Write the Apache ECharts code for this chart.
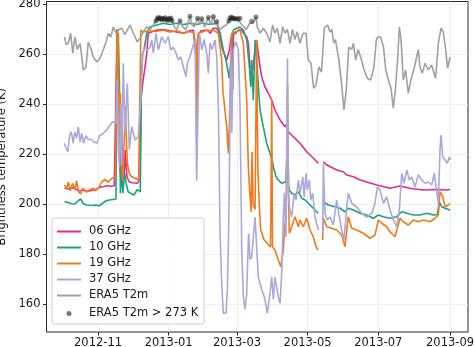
<!DOCTYPE html>
<html>
<head>
<meta charset="utf-8">
<script src="https://cdn.jsdelivr.net/npm/echarts@6/dist/echarts.min.js"></script>
<style>
  html, body { margin: 0; padding: 0; background: #fff; }
  #chart { width: 474px; height: 347px; }
</style>
</head>
<body>
<div id="chart"></div>
<script>
// Day offsets are counted from 2012-11-01 (UTC); values are brightness temperatures in K.
const DAY0 = Date.UTC(2012, 10, 1);
const DAY_MS = 86400000;

const monthTicks = ['2012-11', '2013-01', '2013-03', '2013-05', '2013-07', '2013-09'];
const tempTicks = [160, 180, 200, 220, 240, 260, 280];
const THRESHOLD = 273;

const ghz06 = [
  [-29,206.5],[-25,206.2],[-22,206.8],[-19,206],[-16,205.5],[-13,205.8],[-10,205.2],[-7,205.5],[-4,205.8],
  [-1,206.2],[2,207],[5,207.2],[8,207.5],[11,207.3],[14,207.5],[15.5,207.8],
  [16.5,270],[17.5,269.8],[18.3,241.8],[19,215],[19.8,209.8],[20.5,228.6],[21.5,212.5],[22.5,209.8],
  [23.5,221.8],[25,211],[27,209],[30,208.7],[34,208.5],[36.3,210],[37,241.8],[38.6,248.5],[40.6,255],
  [42.1,260.5],[43.4,268.5],[44.9,269],[50.7,269.8],[56.4,270],[62,269.5],[68,269],[73.7,268.5],
  [79,269.5],[82.3,269.8],[83.5,264],[84.5,259],[85.5,262],[86.5,268],[89,269.5],[93.9,269.8],
  [97,268.5],[99.6,270.5],[102.5,270.5],[105,268.5],[107.5,262],[111.1,257.8],[113.5,262],[115.5,268.5],
  [116.3,245.8],[117,268],[119.8,269],[122,270],[124.1,269.8],[126.5,268],[128.4,267.1],[129.8,264.5],
  [131.3,255],[133.6,253.8],[135.6,261.8],[137,265.8],[138.4,266.5],[139.9,255],[141.4,251],[144.2,247],
  [147.1,244.5],[150,241.8],[152.8,237.8],[157.2,233.8],[161.5,231.1],[163.6,232.5],[164.5,229],
  [168.7,227.1],[174.4,224.5],[180.2,221.1],[186,218.5],[190.2,216.5],[192,null],
  [194.6,217.1],[197.5,215.8],[203.2,214.5],[206.1,213.8],[211.8,213.1],[214.8,211.8],[220.5,211.1],
  [226.3,209.8],[240.7,207.8],[252.2,206.5],[260.8,207.4],[269.4,206.5],[280.9,205.8],[292.5,206],
  [301.1,205.8],[304,206]
];

const ghz10 = [
  [-29,201.1],[-26,200.8],[-23,200.3],[-20,200.2],[-17,201.5],[-15,202.2],[-13,200.5],[-10,199.8],
  [-6,199.6],[-2,199.8],[1,199.5],[4,200.5],[7,201.5],[10,201.8],[13,202],[15.5,202.2],
  [16.3,270],[17,262],[17.5,268.5],[18.5,248.5],[19.3,204.5],[20.5,212.5],[21.5,204.5],[23,212.5],
  [24.5,208],[26,205.1],[28,204.5],[31,203.8],[34,206],[36.5,205],[37.5,251],[38.5,260.5],[39.7,261.8],
  [42.1,268.5],[44.9,271.1],[50.7,271.8],[56.4,272.5],[62,272],[68,272.5],[74,272],[79.4,272.5],
  [85,272],[90.9,272.7],[96,272],[102.5,272.5],[105.4,268.5],[108.2,261.8],[110.5,257.8],[113.4,250.5],
  [115.5,261.8],[116.8,269.8],[119.8,270.5],[122.6,271],[125.5,269.8],[128.4,265.8],[130.7,255],
  [131.9,247],[132.7,257.8],[134.1,241.8],[135.6,265.8],[136.4,262],[138.7,245.8],[139.9,237.8],
  [142.7,231.1],[145.7,224.5],[148.5,220.5],[150.7,217],[151.4,215.1],[153.7,211.1],[155.7,209.8],
  [158.6,208.5],[162.3,209.1],[163.3,222],[163.8,225],[164.5,208],[165.2,205.8],[167.3,204.5],
  [170.1,203.8],[173,205.1],[175.9,202.5],[178.8,201.8],[181.6,200.5],[185.9,198.5],[190.2,196.5],[192,null],
  [194.6,201.1],[198.9,199.8],[204.7,199.1],[209,198.5],[213.3,197.1],[216.1,198.5],[220.5,197.8],
  [226.3,196.5],[232,195.8],[237.7,194.5],[242.1,195.8],[246.4,195.1],[252.2,194.5],[257.9,195.1],
  [262.3,197.1],[266.6,196.5],[272.3,195.8],[278.1,195.8],[283.9,196.5],[289.6,195.8],[293,196],
  [294.7,201.1],[296.8,199.1],[299.7,198.5],[304,197.8]
];

const ghz19 = [
  [-29,207.8],[-27,206.5],[-25.5,209],[-24,205.5],[-22,208.5],[-20,206],[-18.5,209.5],[-17,205],
  [-15,204.2],[-13,206.5],[-10,205],[-7,206],[-4,206.5],[-2,205.5],[1,207],[3,209],[6,210],[9,209],
  [12,210.5],[15,211],[15.8,211],
  [16.5,270],[17.3,268.5],[18.3,228.5],[19.3,244.5],[20.5,215],[21.5,209.5],[23.5,239.1],[25.3,216.5],
  [27,212.5],[29,211.1],[32,210.5],[35,209.8],[36.5,210.5],[37,269.8],[39,269],[44,269.5],[50,269.2],
  [56,269.8],[62,269],[68,269.5],[74,268.5],[79,269.2],[82.3,268.8],[84.4,264.5],[85.2,225],[86,266],
  [86.6,268.5],[93,269.5],[99.6,269.8],[101,270.5],[103.9,268.5],[106.8,257.8],[107.8,245.8],
  [111.1,231.1],[112.5,220.5],[114,241.8],[115.5,268.5],[118.3,269],[122.6,269.8],[125.5,264.5],
  [128.4,241.8],[129.8,215.1],[131,205],[132.2,197],[133,221],[134,200],[135.6,198],[137,265.8],
  [138,215],[139.2,200],[140.5,190],[143.2,186],[146,184.5],[149,183],[150,242],[150.7,183],
  [152.8,181.8],[155.7,177.8],[157.8,175.1],[160,181.8],[161.5,192.5],[162.5,195],[163.6,247.8],
  [164.5,205],[165.2,188.5],[167.3,191.1],[170.1,195.1],[173,191.1],[174.4,193.8],[177.3,191.1],
  [180.2,194.5],[183.1,189.8],[185.9,187.1],[188.3,183.1],[190.2,181.8],[192,null],
  [194,185.8],[194.6,194.5],[197.5,191.1],[201.8,190.5],[206.1,189.8],[210.4,187.8],[213.3,183.1],
  [216.1,195.1],[219.1,190.5],[223.4,189.8],[229.1,188.5],[234.9,186.5],[239.2,187.8],[242.1,193.8],
  [245,192.5],[249.3,191.1],[252.2,189.1],[256.5,187.1],[260.8,194.5],[263.6,193.1],[268,191.8],
  [272.3,193.8],[276.6,193.1],[280.9,193.8],[286.7,193.1],[291,194.5],[293.9,195.8],[295.3,205.1],
  [297.7,203.1],[299.7,199.1],[302.5,199.8],[304,200.5]
];

const ghz37 = [
  [-29,224.5],[-27.5,222.5],[-26,221.1],[-24.5,227.8],[-23,229.1],[-21.5,224.5],[-20,229],[-18.5,226.5],
  [-17,231.1],[-15.5,225],[-14,228.5],[-12.5,224.5],[-10.5,227.5],[-8.5,226],[-6,226.1],[-3.5,225],
  [-1,224.5],[1.5,227.5],[4.5,228.5],[7.5,229.8],[10,231.5],[12.5,233.1],[15.5,232.5],
  [16.5,249.8],[17.5,222],[18.5,215],[19.5,240],[20.5,216],[21.8,256.5],[23.3,228.5],[25.3,248.5],
  [27,222],[29.1,231.1],[32,225.8],[34.8,227.1],[36.9,241.8],[38.6,260.5],[40.6,263],[42.6,261.8],
  [44.9,263],[46.4,265.8],[47.8,260.5],[50.1,268.5],[52.1,261.8],[55,267.1],[57.9,264.5],[60.7,267.1],
  [62.8,261.8],[65,263],[67.4,260.5],[69.3,257.8],[71.4,259.1],[73.7,255],[76,251.1],[77.1,256.5],
  [79.4,259.1],[81.8,263],[83.8,265.8],[85.2,209.5],[87.5,268.5],[89.6,261.8],[91.5,266],[93.9,260.5],
  [95.3,252.5],[96.7,264.5],[98.5,262],[101,265.8],[102.5,259],[103.9,240],[105.4,188.5],[106.8,168.5],
  [108.2,156.5],[110.5,156.5],[111.7,166],[112.5,182],[113.4,208.5],[114.5,262],[115.5,228.6],
  [116.8,262],[119,265],[121.2,262],[122.6,240],[124.1,182],[125.5,163],[126.9,158],[128.4,164.5],
  [130,188.5],[131.3,178],[132.7,179],[135.6,195],[138.4,171],[141.4,166],[144.2,162],[146.2,156.5],
  [148.5,164.5],[150,171],[151.4,162],[152.8,171],[155.7,163],[157.2,160.5],[158.6,172.5],[160,195],
  [160.9,204.5],[162.3,187],[163.6,258.5],[164.5,204.5],[165.2,199],[167.3,195],[169.3,204.5],
  [171,201.8],[173,209.8],[174.4,204.5],[176.8,211],[178,203],[179.6,212.5],[180.7,205.8],[182.5,209.8],
  [183.7,201.8],[185.4,204.5],[187.4,195],[190.2,189.8],[192,null],
  [194,188.5],[194.6,216.5],[196,196.5],[198,193.8],[200.3,195],[203.2,191.8],[206.1,201.8],
  [208.4,195],[210.4,189.8],[212.4,185.8],[214.8,199],[216.1,204.5],[219.1,200.5],[223.4,199],
  [227.7,196.5],[232,195],[236.4,196.5],[239.2,200.5],[241.2,207],[243.5,205.8],[246.4,200.5],
  [249.3,203],[252.2,197.8],[255,193.8],[257.9,191.1],[260.2,197.8],[262.3,212.5],[264.2,208.5],
  [266.6,213.8],[268.8,209.8],[270.9,211],[273.7,207],[276.6,211.8],[279.5,209.8],[282.4,208.5],
  [285.2,209],[288.2,207.8],[290.4,212.5],[291.9,207],[293.9,200.5],[295.3,221.8],[296.2,227.8],
  [297.7,219],[299.7,217.8],[301.6,216.5],[303.4,219],[304.6,217.8]
];

const era5T2m = [
  [-29,267],[-27.5,264],[-25.6,264.5],[-23.6,268.5],[-21.8,260.5],[-19.9,267],[-17.9,262],[-15.5,264.5],
  [-12.7,253.8],[-10.4,255],[-8.4,265],[-6.3,262.5],[-4.1,259],[-1.1,257],[1.7,258.5],[4.6,262],
  [6.9,265],[8.9,268.5],[11,267],[13.2,271],[15.5,268.5],[18,270],[20.5,270.5],[23,268],[26.2,270.5],
  [27.6,271.8],[30.5,268.5],[33.9,265],[36.9,267],[39,269],[42,271],[45,270],[48,272],
  [50,273.4],[51,274.3],[52,274.8],[53,274.2],[54,274.6],[55,273.9],[56,274.5],[57,274.1],[58,274.7],
  [59,274],[60,273.6],[61,274.4],[62,274],[63,274.6],[64,273.5],[66,271],[68,270],[70.8,273.5],[73,271],
  [76,270],[79.4,275.3],[81,272],[83,271],[86,274.5],[88,272],[89.6,274.3],[92,271],[95.3,274.8],[97,272],
  [99.6,275.2],[101,272],[102.5,273.2],[105,270],[108,271],[111,272],[113,273.4],
  [114,274.5],[115,275],[116,274.3],[117,274.6],[118,274.2],[119.5,274.4],[121,274.1],[122.5,274.5],
  [124,272],[125.5,271.8],[128,270],[131,272.5],[132.7,273.3],[134,272.5],[136.4,275],[137.5,271],
  [139.9,268.5],[142.7,270.5],[145.7,268.5],[148.5,265],[150.7,271.8],[152.8,268.5],[154.8,270.5],
  [157.2,264.5],[159.5,271],[161.5,268.5],[163.5,270],[165.8,264.5],[168,270],[170,266],[172,269.1],
  [174.4,264.5],[177,268.5],[179.6,268.5],[181.6,257.8],[183.9,256.5],[186.2,246.5],[188.3,247.8],
  [190.7,255],[193,253],[195.4,270.5],[198.3,271.8],[200.3,269],[202,270],[203.5,264.5],[205,266],
  [208,257.8],[210.3,248.5],[212.4,237.8],[214.4,245.8],[216.5,263],[219,262],[220.5,264.5],
  [222.5,257.8],[224.7,262],[227.5,257.8],[229.8,253.8],[232.6,250.5],[235.5,249.8],[238.3,255],
  [240.3,265.8],[241.7,267],[244,267],[246.5,263],[248.5,253.8],[250.8,249.8],[253,246.5],[255,238.5],
  [257,247],[258.8,258.5],[260.2,271],[261.7,265.8],[263.6,249.8],[265.7,253.8],[267.9,244.5],
  [270.2,249.8],[273,254.5],[276.6,262],[278,255],[280,252.5],[282.4,256.5],[285.2,253.8],[288,255.8],
  [291.5,250.5],[293.9,264.5],[296.2,270.5],[298.2,269],[300.2,262],[301.9,254.5],[304,259]
];

const dayToTime = d => DAY0 + d * DAY_MS;
const toPoints = arr => arr.map(([d, v]) => [dayToTime(d), v]);
const monthToTime = s => { const [y, m] = s.split('-').map(Number); return Date.UTC(y, m - 1, 1); };
const monthTickTimes = monthTicks.map(monthToTime);
const warmDays = era5T2m.filter(([, v]) => v !== null && v > THRESHOLD);

const FONT = 'DejaVu Sans';
const LINE_ICON = 'path://M0,0L24,0L24,2L0,2Z';
const COLORS = { g06: '#e6298b', g10: '#1ba37c', g19: '#f07a1a', g37: '#aaa8d9', era: '#a0a0a0' };

const lineSeries = (name, arr, color) => ({
  name, type: 'line', data: toPoints(arr), showSymbol: false, symbol: 'none',
  connectNulls: false, z: 2,
  lineStyle: { color, width: 1.6 }, itemStyle: { color },
  emphasis: { disabled: true }, animation: false
});

const chart = echarts.init(document.getElementById('chart'), null, { renderer: 'canvas' });
chart.setOption({
  animation: false,
  textStyle: { fontFamily: FONT },
  grid: {
    left: 46.5, right: 6, top: 1.5, bottom: 15,
    show: true, borderColor: '#262626', borderWidth: 1,
    containLabel: false, outerBoundsMode: 'none'
  },
  xAxis: {
    type: 'value',
    min: dayToTime(-44.5), max: dayToTime(319.5),
    axisLine: { show: false },
    axisTick: { show: true, length: 3.5, lineStyle: { color: '#262626', width: 1 }, customValues: monthTickTimes },
    axisLabel: {
      customValues: monthTickTimes, margin: 5, color: '#1a1a1a', fontSize: 11.5, fontFamily: FONT,
      formatter: v => { const t = new Date(v); return t.getUTCFullYear() + '-' + String(t.getUTCMonth() + 1).padStart(2, '0'); }
    },
    splitLine: { show: true, lineStyle: { color: '#ebebeb', width: 0.8 } }
  },
  yAxis: {
    type: 'value',
    min: 149, max: 281.2,
    name: 'Brightness temperature (K)', nameLocation: 'middle', nameGap: 38.5,
    nameTextStyle: { color: '#1a1a1a', fontSize: 11.5, fontFamily: FONT },
    axisLine: { show: false },
    axisTick: { show: true, length: 3.5, lineStyle: { color: '#262626', width: 1 }, customValues: tempTicks },
    axisLabel: { customValues: tempTicks, margin: 6, color: '#1a1a1a', fontSize: 11.5, fontFamily: FONT },
    splitLine: { show: true, lineStyle: { color: '#ebebeb', width: 0.8 } }
  },
  graphic: {
    elements: [{
      type: 'rect', z: 3, silent: true,
      shape: { x: 52, y: 218, width: 152, height: 106, r: 3 },
      style: { fill: 'rgba(255,255,255,0.85)', stroke: '#d0d0d0', lineWidth: 1 }
    }]
  },
  legend: [{
    data: ['06 GHz', '10 GHz', '19 GHz', '37 GHz', 'ERA5 T2m'].map(name => ({ name, icon: LINE_ICON })),
    orient: 'vertical', left: 57, top: 225.5, padding: 0,
    itemWidth: 24, itemHeight: 12, itemGap: 4, z: 5,
    selectedMode: false,
    itemStyle: { borderWidth: 0 },
    textStyle: { fontSize: 11.5, color: '#1a1a1a', fontFamily: FONT, padding: [0, 0, 0, 3] }
  }, {
    data: [{ name: 'ERA5 T2m > 273 K', icon: 'circle' }],
    orient: 'vertical', left: 66.5, top: 307.5, padding: 0,
    itemWidth: 5, itemHeight: 5, z: 5,
    selectedMode: false,
    itemStyle: { color: '#555555', borderWidth: 0 },
    textStyle: { fontSize: 11.5, color: '#1a1a1a', fontFamily: FONT, padding: [0, 0, 0, 12.5] }
  }],
  series: [
    lineSeries('06 GHz', ghz06, COLORS.g06),
    lineSeries('10 GHz', ghz10, COLORS.g10),
    lineSeries('19 GHz', ghz19, COLORS.g19),
    lineSeries('37 GHz', ghz37, COLORS.g37),
    lineSeries('ERA5 T2m', era5T2m, COLORS.era),
    {
      name: 'ERA5 T2m > 273 K', type: 'scatter', data: toPoints(warmDays),
      symbol: 'circle', symbolSize: 5, z: 2,
      itemStyle: { color: 'rgba(25,25,25,0.65)' },
      emphasis: { disabled: true }, animation: false
    }
  ]
});
</script>
</body>
</html>
